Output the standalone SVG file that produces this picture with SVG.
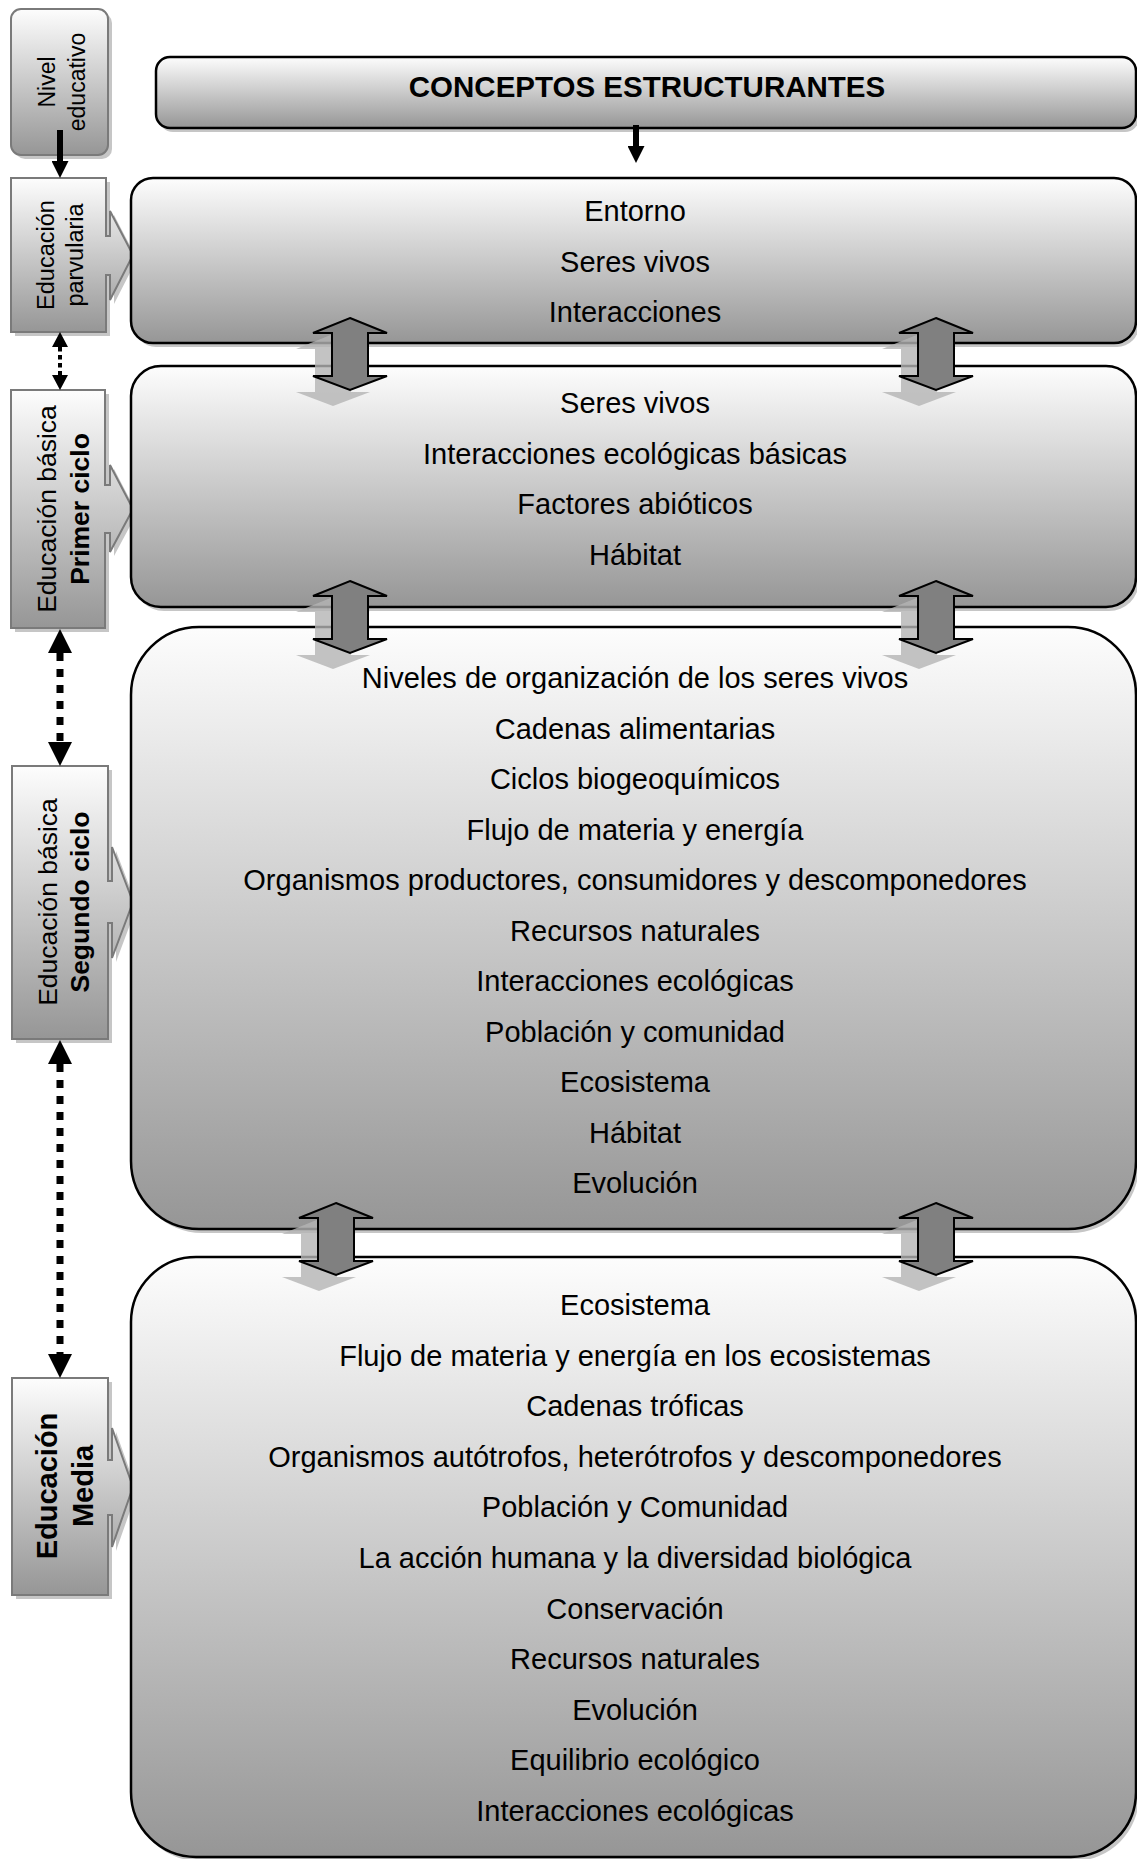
<svg xmlns="http://www.w3.org/2000/svg" width="1137" height="1859" viewBox="0 0 1137 1859">
  <defs>
    <linearGradient id="fade" x1="0" y1="0" x2="0" y2="1">
      <stop offset="0" stop-color="#fdfdfd"/>
      <stop offset="1" stop-color="#969696"/>
    </linearGradient>
    <!-- two-way block arrow, tip at origin -->
    <path id="dbl" d="M0,0 L37,15 L18,15 L18,58 L37,58 L0,72 L-37,58 L-18,58 L-18,15 L-37,15 Z"/>
    <marker id="headBig" markerUnits="userSpaceOnUse" markerWidth="24" markerHeight="24" refX="0" refY="12" orient="auto-start-reverse" viewBox="0 0 24 24">
      <path d="M0,0 L24,12 L0,24 Z" fill="#000"/>
    </marker>
    <marker id="headSmall" markerUnits="userSpaceOnUse" markerWidth="15" markerHeight="16" refX="0" refY="8" orient="auto-start-reverse" viewBox="0 0 15 16">
      <path d="M0,0 L15,8 L0,16 Z" fill="#000"/>
    </marker>
    <marker id="headSolid" markerUnits="userSpaceOnUse" markerWidth="17" markerHeight="17" refX="0" refY="8.5" orient="auto" viewBox="0 0 17 17">
      <path d="M0,0 L17,8.5 L0,17 Z" fill="#000"/>
    </marker>
  </defs>
  <style>
    .box { fill: url(#fade); stroke: #000; stroke-width: 2.5; }
    .shadow { fill: #c6c6c6; }
    .side { fill: url(#fade); stroke: #7a7a7a; stroke-width: 2; }
    .t { font-family: "Liberation Sans", Arial, sans-serif; font-size: 29px; text-anchor: middle; fill: #000; }
    .h { font-family: "Liberation Sans", Arial, sans-serif; font-size: 29.5px; font-weight: bold; text-anchor: middle; fill: #000; }
    .lbl { font-family: "Liberation Sans", Arial, sans-serif; text-anchor: middle; fill: #000; }
    .b { font-weight: bold; }
    .blk { fill: #808080; stroke: #000; stroke-width: 2; }
    .blkShadow { fill: #b4b4b4; opacity: 0.8; }
    .dotBig { stroke: #000; stroke-width: 7; stroke-dasharray: 8 8; fill: none; }
    .dotSmall { stroke: #000; stroke-width: 4; stroke-dasharray: 4.5 3.5; fill: none; }
    .solid { stroke: #000; stroke-width: 6; fill: none; }
  </style>

  <rect width="1137" height="1859" fill="#fff"/>

  <!-- level column -->
  <g id="nivel">
    <rect class="shadow" x="15" y="13" width="97" height="146" rx="10"/>
    <rect class="side" x="11" y="9" width="97" height="146" rx="10"/>
    <g transform="translate(0,82) rotate(-90)">
      <text class="lbl" font-size="23" x="0" y="55">Nivel</text>
      <text class="lbl" font-size="23" x="0" y="85">educativo</text>
    </g>
  </g>

  <g id="parvularia">
    <path class="shadow" transform="translate(4,4)" d="M11,178 H106 V236 H110 V211 L133,255 L110,300 V275 H106 V332 H11 Z"/>
    <path class="side" d="M11,178 H106 V236 H110 V211 L133,255 L110,300 V275 H106 V332 H11 Z"/>
    <g transform="translate(0,255) rotate(-90)">
      <text class="lbl" font-size="23.5" x="0" y="54">Educación</text>
      <text class="lbl" font-size="23.5" x="0" y="83">parvularia</text>
    </g>
  </g>

  <g id="primer-ciclo">
    <path class="shadow" transform="translate(4,4)" d="M11,390 H105 V485 H110 V465 L133,509 L110,552 V533 H105 V628 H11 Z"/>
    <path class="side" d="M11,390 H105 V485 H110 V465 L133,509 L110,552 V533 H105 V628 H11 Z"/>
    <g transform="translate(0,509) rotate(-90)">
      <text class="lbl" font-size="26.5" x="0" y="56">Educación básica</text>
      <text class="lbl b" font-size="26.5" x="0" y="89">Primer ciclo</text>
    </g>
  </g>

  <g id="segundo-ciclo">
    <path class="shadow" transform="translate(4,4)" d="M12,766 H108 V881 H112 V847 L133,902 L112,958 V923 H108 V1039 H12 Z"/>
    <path class="side" d="M12,766 H108 V881 H112 V847 L133,902 L112,958 V923 H108 V1039 H12 Z"/>
    <g transform="translate(0,902) rotate(-90)">
      <text class="lbl" font-size="26.5" x="0" y="57">Educación básica</text>
      <text class="lbl b" font-size="26.5" x="0" y="89">Segundo ciclo</text>
    </g>
  </g>

  <g id="media">
    <path class="shadow" transform="translate(4,4)" d="M12,1378 H108 V1460 H112 V1428 L133,1487 L112,1547 V1515 H108 V1595 H12 Z"/>
    <path class="side" d="M12,1378 H108 V1460 H112 V1428 L133,1487 L112,1547 V1515 H108 V1595 H12 Z"/>
    <g transform="translate(0,1486) rotate(-90)">
      <text class="lbl b" font-size="29" x="0" y="57">Educación</text>
      <text class="lbl b" font-size="29" x="0" y="93">Media</text>
    </g>
  </g>

  <!-- concept column -->
  <g id="header">
    <rect class="shadow" x="159" y="61" width="980" height="71" rx="14"/>
    <rect class="box" x="156" y="57" width="980" height="71" rx="14"/>
    <text class="h" x="647" y="97">CONCEPTOS ESTRUCTURANTES</text>
  </g>

  <g id="conceptos-parvularia">
    <rect class="shadow" x="134" y="182" width="1005" height="165" rx="22"/>
    <rect class="box" x="131" y="178" width="1005" height="165" rx="22"/>
    <text class="t" x="635" y="221">Entorno</text>
    <text class="t" x="635" y="271.5">Seres vivos</text>
    <text class="t" x="635" y="322">Interacciones</text>
  </g>

  <g id="conceptos-primer-ciclo">
    <rect class="shadow" x="134" y="370" width="1005" height="241" rx="30"/>
    <rect class="box" x="131" y="366" width="1005" height="241" rx="30"/>
    <text class="t" x="635" y="413">Seres vivos</text>
    <text class="t" x="635" y="463.5">Interacciones ecológicas básicas</text>
    <text class="t" x="635" y="514">Factores abióticos</text>
    <text class="t" x="635" y="564.5">Hábitat</text>
  </g>

  <g id="conceptos-segundo-ciclo">
    <rect class="shadow" x="134" y="631" width="1005" height="602" rx="68"/>
    <rect class="box" x="131" y="627" width="1005" height="602" rx="68"/>
    <text class="t" x="635" y="688">Niveles de organización de los seres vivos</text>
    <text class="t" x="635" y="738.5">Cadenas alimentarias</text>
    <text class="t" x="635" y="789">Ciclos biogeoquímicos</text>
    <text class="t" x="635" y="839.5">Flujo de materia y energía</text>
    <text class="t" x="635" y="890">Organismos productores, consumidores y descomponedores</text>
    <text class="t" x="635" y="940.5">Recursos naturales</text>
    <text class="t" x="635" y="991">Interacciones ecológicas</text>
    <text class="t" x="635" y="1041.5">Población y comunidad</text>
    <text class="t" x="635" y="1092">Ecosistema</text>
    <text class="t" x="635" y="1142.5">Hábitat</text>
    <text class="t" x="635" y="1193">Evolución</text>
  </g>

  <g id="conceptos-media">
    <rect class="shadow" x="134" y="1261" width="1005" height="600" rx="65"/>
    <rect class="box" x="131" y="1257" width="1005" height="600" rx="65"/>
    <text class="t" x="635" y="1315">Ecosistema</text>
    <text class="t" x="635" y="1365.6">Flujo de materia y energía en los ecosistemas</text>
    <text class="t" x="635" y="1416.2">Cadenas tróficas</text>
    <text class="t" x="635" y="1466.8">Organismos autótrofos, heterótrofos y descomponedores</text>
    <text class="t" x="635" y="1517.4">Población y Comunidad</text>
    <text class="t" x="635" y="1568">La acción humana y la diversidad biológica</text>
    <text class="t" x="635" y="1618.6">Conservación</text>
    <text class="t" x="635" y="1669.2">Recursos naturales</text>
    <text class="t" x="635" y="1719.8">Evolución</text>
    <text class="t" x="635" y="1770.4">Equilibrio ecológico</text>
    <text class="t" x="635" y="1821">Interacciones ecológicas</text>
  </g>

  <!-- connectors -->
  <g id="connectors">
    <line class="solid" x1="60" y1="130" x2="60" y2="161" marker-end="url(#headSolid)"/>
    <line class="dotSmall" x1="60" y1="347" x2="60" y2="375" marker-start="url(#headSmall)" marker-end="url(#headSmall)"/>
    <line class="dotBig" x1="60" y1="653" x2="60" y2="742" marker-start="url(#headBig)" marker-end="url(#headBig)"/>
    <line class="dotBig" x1="60" y1="1064" x2="60" y2="1354" marker-start="url(#headBig)" marker-end="url(#headBig)"/>
    <line class="solid" x1="636" y1="125" x2="636" y2="146" marker-end="url(#headSolid)"/>

    <!-- two-way block arrows between concept boxes -->
    <use href="#dbl" class="blkShadow" transform="translate(333,334)"/>
    <use href="#dbl" class="blk" transform="translate(350,318)"/>
    <use href="#dbl" class="blkShadow" transform="translate(919,334)"/>
    <use href="#dbl" class="blk" transform="translate(936,318)"/>

    <use href="#dbl" class="blkShadow" transform="translate(333,597)"/>
    <use href="#dbl" class="blk" transform="translate(350,581)"/>
    <use href="#dbl" class="blkShadow" transform="translate(919,597)"/>
    <use href="#dbl" class="blk" transform="translate(936,581)"/>

    <use href="#dbl" class="blkShadow" transform="translate(319,1219)"/>
    <use href="#dbl" class="blk" transform="translate(336,1203)"/>
    <use href="#dbl" class="blkShadow" transform="translate(919,1219)"/>
    <use href="#dbl" class="blk" transform="translate(936,1203)"/>
  </g>
</svg>
